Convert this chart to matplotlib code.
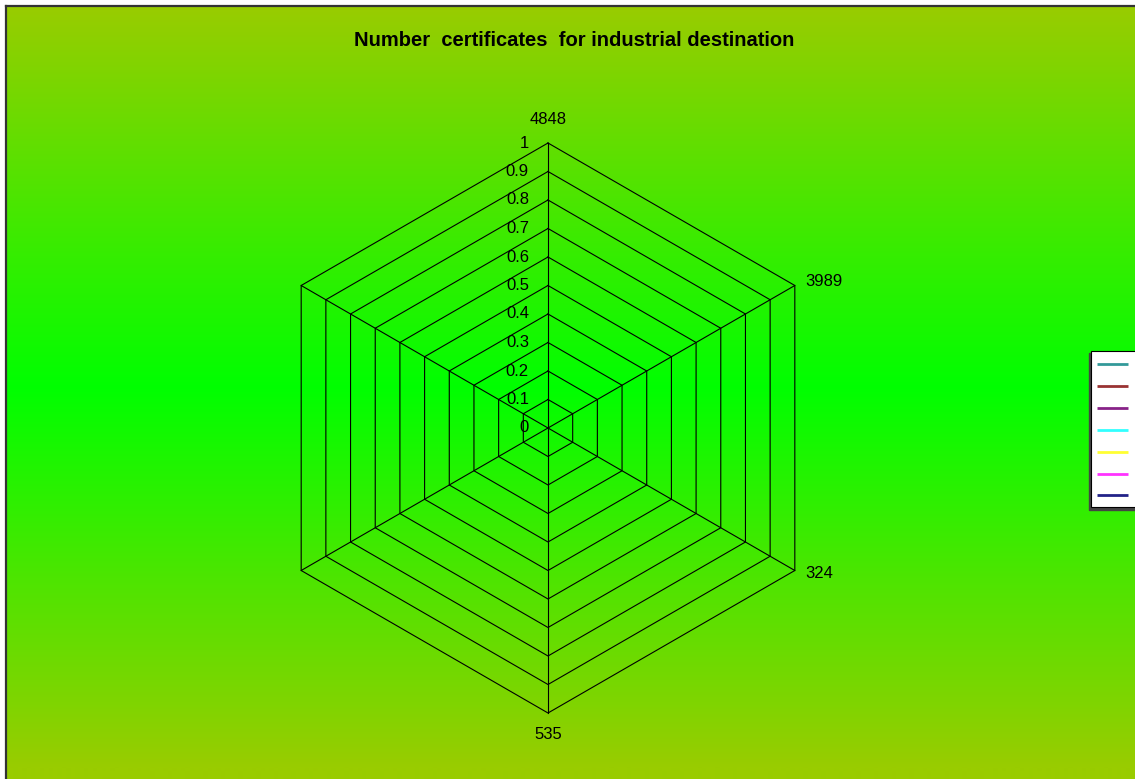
import numpy as np
import matplotlib
matplotlib.use("Agg")
import matplotlib.pyplot as plt
from matplotlib.patches import Rectangle

plt.rcParams['font.family'] = ['Liberation Sans', 'DejaVu Sans']

# data
title = "Number  certificates  for industrial destination"
axis_labels = ["4848", "3989", "324", "535", "", ""]
ring_levels = [0, 0.1, 0.2, 0.3, 0.4, 0.5, 0.6, 0.7, 0.8, 0.9, 1]
ring_labels = ["0", "0.1", "0.2", "0.3", "0.4", "0.5", "0.6", "0.7", "0.8", "0.9", "1"]
series_colors = ["#339999", "#993333", "#882288", "#33ffff", "#ffff33", "#ff33ff", "#222288"]
# all series sit at the centre in the picture
series_values = [[0, 0, 0, 0, 0, 0] for _ in series_colors]

W, H = 1135, 779
cx, cy, R = 548, 428, 285  # centre / radius in pixels (from top)

fig = plt.figure(figsize=(W / 100, H / 100), dpi=100)
fig.patch.set_facecolor("white")

# background panel with vertical gradient
bg = fig.add_axes([0, 0, 1, 1])
bg.set_xlim(0, W)
bg.set_ylim(H, 0)
bg.axis("off")
ys = np.arange(5, H + 1)
t = np.clip(np.abs(ys - 387) / 380.0, 0, 1)
top = np.array([153, 204, 0]) / 255
mid = np.array([0, 255, 0]) / 255
grad = mid[None, :] + t[:, None] * (top - mid)[None, :]
bg.imshow(grad[:, None, :], extent=[5, W, H, 5], aspect="auto", interpolation="bilinear")
bg.plot([5.5, 5.5], [H, 5.5], color="#333333", lw=1.6)
bg.plot([5.5, W], [5.5, 5.5], color="#333333", lw=1.6)

# legend box (labels fall outside the image)
bg.add_patch(Rectangle((1089, 353), 60, 157, color="#444444", zorder=3))
bg.add_patch(Rectangle((1091, 351), 60, 156, facecolor="white", edgecolor="black", lw=0.8, zorder=4))
for i, c in enumerate(series_colors):
    yy = 364 + i * 21.9
    bg.plot([1097, 1128], [yy, yy], color=c, lw=2, zorder=5, solid_capstyle="butt")

# radar axes
ax = fig.add_axes([0, 0, 1, 1])
ax.patch.set_alpha(0)
ax.axis("off")
ax.set_xlim(-cx / R, (W - cx) / R)
ax.set_ylim(-(H - cy) / R, cy / R)

n = len(axis_labels)
theta = np.arange(n) * 2 * np.pi / n
sx, sy = np.sin(theta), np.cos(theta)

for lv in ring_levels[1:]:
    ax.plot(np.append(lv * sx, lv * sx[0]), np.append(lv * sy, lv * sy[0]), color="black", lw=0.8)
for i in range(n):
    ax.plot([0, sx[i]], [0, sy[i]], color="black", lw=0.8)

for lv, lab in zip(ring_levels, ring_labels):
    ax.annotate(lab, xy=(0, lv), xytext=(-19, 0), textcoords="offset pixels",
                ha="right", va="center", fontsize=12)

offsets = [(0, 23.5, "center"), (10, 4.5, "left"), (10, -3, "left"),
           (0, -21.5, "center"), (-10, -3, "right"), (-10, 4.5, "right")]
for i, lab in enumerate(axis_labels):
    if not lab:
        continue
    dx, dy, ha = offsets[i]
    ax.annotate(lab, xy=(sx[i], sy[i]), xytext=(dx, dy), textcoords="offset pixels",
                ha=ha, va="center", fontsize=12)

for vals, c in zip(series_values, series_colors):
    v = np.array(vals, dtype=float)
    ax.plot(np.append(v * sx, v[0] * sx[0]), np.append(v * sy, v[0] * sy[0]), color=c, lw=1)

fig.text(574.5 / W, 1 - 40 / H, title, ha="center", va="center", fontsize=14.5, fontweight="bold")

fig.savefig("out.png", dpi=100)
